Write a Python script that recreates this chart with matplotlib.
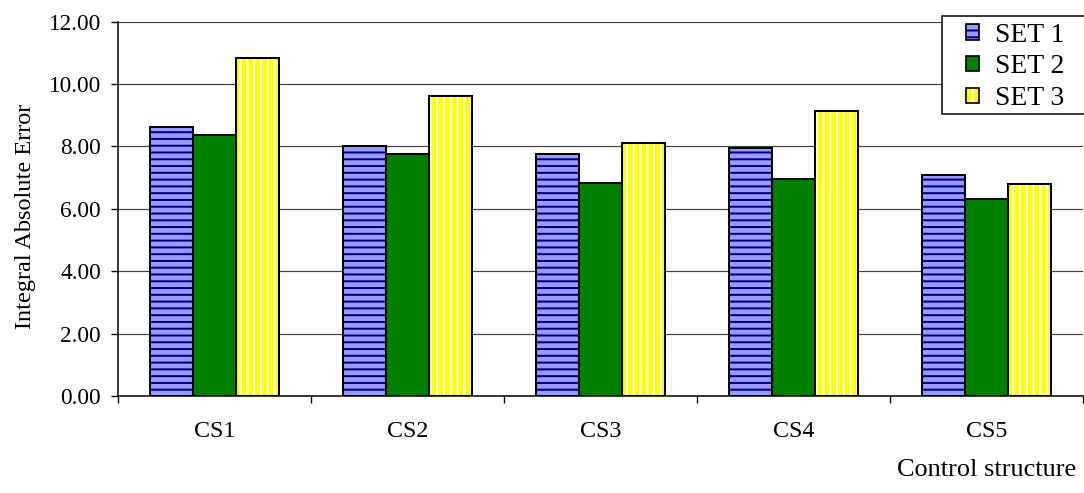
import matplotlib
matplotlib.use('Agg')
import matplotlib.pyplot as plt
import numpy as np
from matplotlib.patches import Rectangle, Patch
from matplotlib.legend_handler import HandlerTuple

# IAE of each control structure for the three disturbance sets
categories = ['CS1', 'CS2', 'CS3', 'CS4', 'CS5']
set1 = [8.62, 8.01, 7.77, 7.94, 7.09]
set2 = [8.36, 7.77, 6.83, 6.97, 6.30]
set3 = [10.85, 9.63, 8.12, 9.14, 6.79]
series_names = ['SET 1', 'SET 2', 'SET 3']
y_ticks = [0, 2, 4, 6, 8, 10, 12]

DPI = 122
W_PX, H_PX = 1084, 493

plt.rcParams['font.family'] = ['Liberation Serif', 'DejaVu Serif']
plt.rcParams['hatch.linewidth'] = 1.2

fig = plt.figure(figsize=(W_PX / DPI, H_PX / DPI), dpi=DPI)

ax = fig.add_axes([118 / W_PX, 1 - 396 / H_PX, (1083 - 118) / W_PX, (396 - 21.7) / H_PX])
ax.set_facecolor('none')

x = np.arange(len(categories))
width = 1 / 4.5
styles = [
    dict(face='#9999ff', hatch='---', hatch_color='#000080'),
    dict(face='#008000', hatch=None, hatch_color='#008000'),
    dict(face='#ffff00', hatch='|||', hatch_color='#ffffff'),
]
handles = []
for i, (vals, st) in enumerate(zip([set1, set2, set3], styles)):
    pos = x + (i - 1) * width
    # filled/hatched body, then a separate black outline on top
    ax.bar(pos, vals, width, color=st['face'], hatch=st['hatch'],
           edgecolor=st['hatch_color'], linewidth=0, zorder=2)
    ax.bar(pos, vals, width, fill=False, edgecolor='black', linewidth=1.2, zorder=3)
    handles.append((Patch(facecolor=st['face'], hatch=st['hatch'], edgecolor=st['hatch_color'], linewidth=0),
                    Patch(fill=False, edgecolor='black', linewidth=1.0)))

ax.set_xlim(-0.5, len(categories) - 0.5)
ax.set_ylim(0, 12)
ax.set_yticks(y_ticks)
ax.set_yticklabels([f'{v:.2f}' for v in y_ticks])
ax.yaxis.grid(True, color='#404040', linewidth=0.7, zorder=1)
ax.set_axisbelow(True)

ax.set_xticks(x)
ax.set_xticklabels(categories)
ax.set_xticks(np.arange(-0.5, len(categories)), minor=True)
ax.tick_params(axis='x', which='major', length=0, pad=15, labelsize=14.2)
ax.tick_params(axis='x', which='minor', length=4, width=0.8, direction='out')
ax.tick_params(axis='y', length=4, width=0.8, direction='out', pad=6, labelsize=13.8)

for side in ['top', 'right']:
    ax.spines[side].set_visible(False)
for side in ['left', 'bottom']:
    ax.spines[side].set_linewidth(0.9)

fig.text(26 / W_PX, 1 - 216 / H_PX, 'Integral Absolute Error', rotation=90,
         ha='center', va='center', fontsize=14.3)
fig.text(1076 / W_PX, 1 - 470 / H_PX, 'Control structure', ha='right', va='center', fontsize=15.5)

# legend frame
fig.patches.append(Rectangle((942 / W_PX, 1 - 114 / H_PX), 160 / W_PX, 98 / H_PX,
                             transform=fig.transFigure, facecolor='white', edgecolor='black',
                             linewidth=0.9, zorder=5))
leg = fig.legend(handles, series_names, handler_map={tuple: HandlerTuple(ndivide=1)},
                 loc='upper left', bbox_to_anchor=(960 / W_PX, 1 - 17 / H_PX),
                 frameon=False, fontsize=16.3, handlelength=0.5, handleheight=0.5,
                 handletextpad=0.55, labelspacing=0.25, borderpad=0.2, borderaxespad=0)
leg.set_zorder(6)

fig.savefig('out.png', dpi=DPI)
